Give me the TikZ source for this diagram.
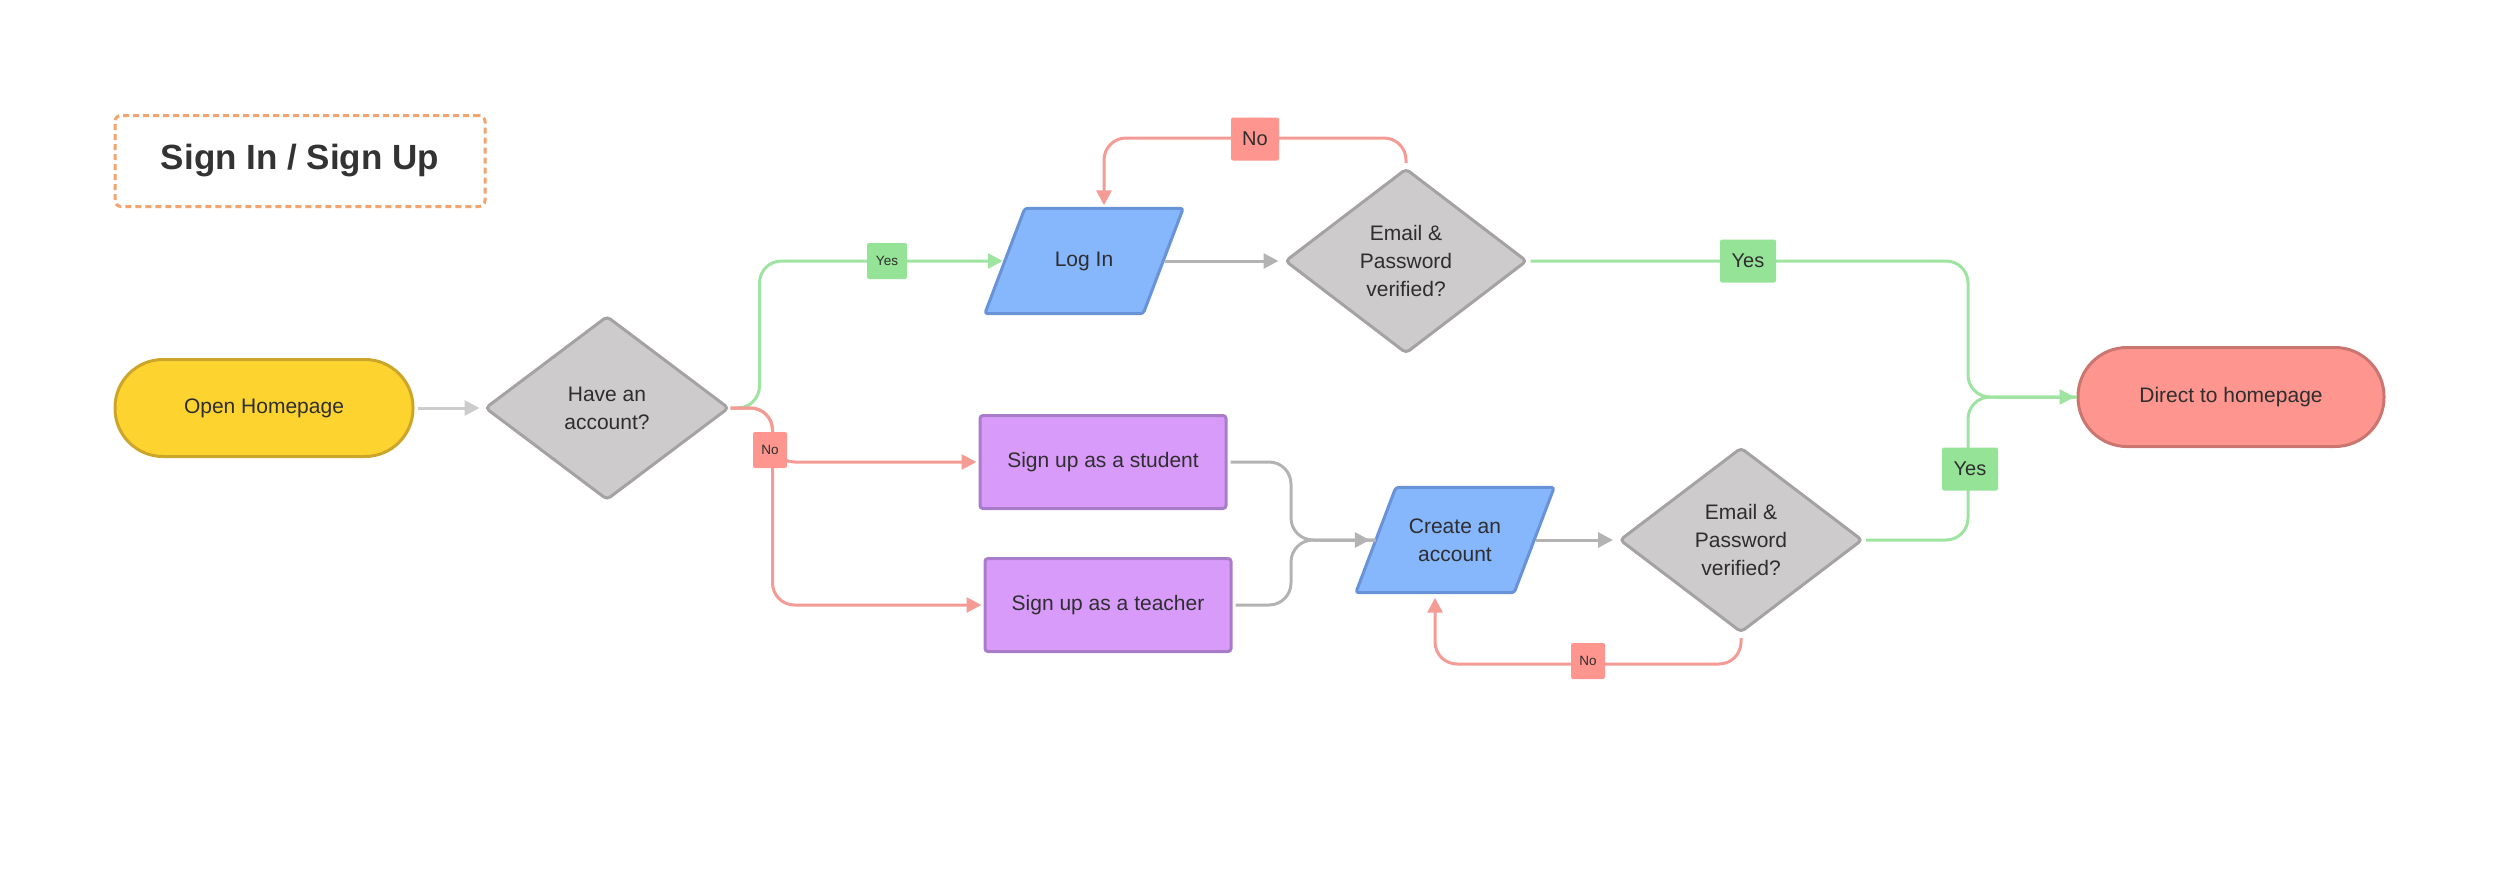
\documentclass[tikz,border=0pt]{standalone}
\usepackage{fontspec}
\setmainfont{Liberation Sans}
\usetikzlibrary{shapes.geometric,arrows.meta,calc,backgrounds}
\definecolor{txt}{HTML}{2E2E2E}
\definecolor{titlec}{HTML}{333333}
\definecolor{dashc}{HTML}{F3A36E}
\definecolor{ohfill}{HTML}{FDD330}
\definecolor{ohline}{HTML}{CCA52B}
\definecolor{dfill}{HTML}{CDCBCC}
\definecolor{dline}{HTML}{A4A2A3}
\definecolor{bfill}{HTML}{86B6FB}
\definecolor{bline}{HTML}{6893D6}
\definecolor{pfill}{HTML}{D99BFA}
\definecolor{pline}{HTML}{A87CC9}
\definecolor{rfill}{HTML}{FE968F}
\definecolor{rline}{HTML}{CB7571}
\definecolor{grayc}{HTML}{B3B3B3}
\definecolor{lgrayc}{HTML}{CCCCCC}
\definecolor{greenc}{HTML}{9FE3A1}
\definecolor{greenl}{HTML}{95E397}
\definecolor{redc}{HTML}{F49B95}
\begin{document}
\begin{tikzpicture}[x=1pt,y=-1pt,
  nodetext/.style={font=\fontsize{21}{28}\selectfont, text=txt, align=center, inner sep=0pt},
  stadium/.style={nodetext, draw, line width=3pt, minimum height=97pt, rounded corners=48pt},
  decision/.style={nodetext, shape=diamond, draw=dline, fill=dfill, line width=3pt, aspect=1.32, rounded corners=4pt},
  iobox/.style={nodetext, minimum width=158pt, minimum height=105pt},
  iofill/.style={draw=bline, fill=bfill, line width=3pt, rounded corners=3pt},
  process/.style={nodetext, draw=pline, fill=pfill, line width=3pt, minimum width=246pt, minimum height=93pt, rounded corners=3pt},
  conn/.style={line width=3pt, rounded corners=22pt, -{Triangle[length=15pt,width=15pt]}},
  plain/.style={line width=3pt, rounded corners=22pt},
  smalllab/.style={font=\fontsize{13.5}{16}\selectfont, text=txt, inner sep=0pt, minimum height=36pt, rounded corners=2pt},
  biglab/.style={font=\fontsize{20}{24}\selectfont, text=txt, inner sep=0pt, minimum height=43pt, rounded corners=2pt},
  yeslab/.style={fill=greenl},
  nolab/.style={fill=rfill}
]
\useasboundingbox (0,0) rectangle (2500,886);

% title
\node[draw=dashc, line width=3pt, dash pattern=on 6pt off 4pt, rounded corners=6pt,
  minimum width=370pt, minimum height=91pt, font=\bfseries\fontsize{35}{40}\selectfont, text=titlec]
  (title) at (300,161) {Sign In / Sign Up};

% nodes
\node[stadium, draw=ohline, fill=ohfill, minimum width=298pt] (oh) at (264,408) {Open Homepage};
\node[decision, minimum width=244pt, minimum height=184pt] (d1) at (607,408) {Have an\\account?};
\node[iobox] (login) at (1084,261) {Log In};
\node[decision, minimum width=242pt, minimum height=185pt] (d2) at (1406,261) {Email \&\\Password\\verified?};
\node[stadium, draw=rline, fill=rfill, minimum width=306pt, minimum height=99pt, rounded corners=49pt] (direct) at (2231,397) {Direct to homepage};
\node[process] (student) at (1103,462) {Sign up as a student};
\node[process] (teacher) at (1108,605) {Sign up as a teacher};
\node[iobox] (create) at (1455,540) {Create an\\account};
\node[decision, minimum width=243pt, minimum height=185pt] (d3) at (1741,540) {Email \&\\Password\\verified?};

% parallelogram bodies behind the input/output texts
\begin{scope}[on background layer]
\path[iofill] ([xshift=20pt]login.north west) -- ([xshift=20pt]login.north east)
  -- ([xshift=-20pt]login.south east) -- ([xshift=-20pt]login.south west) -- cycle;
\path[iofill] ([xshift=20pt]create.north west) -- ([xshift=20pt]create.north east)
  -- ([xshift=-20pt]create.south east) -- ([xshift=-20pt]create.south west) -- cycle;
\end{scope}

\coordinate (merge) at (1968,397);
\coordinate (join) at (1291,540);

% connectors
\draw[conn, draw=lgrayc, shorten <=3pt, shorten >=4pt] (oh.east) -- (d1.west);
\draw[conn, draw=greenc, shorten >=2pt] (d1.east) -- ++(29,0) |- (login.west);
\draw[conn, draw=redc, shorten >=2pt] (d1.east) -- ++(42,0) |- (student.west);
\draw[conn, draw=redc, shorten >=2pt] (d1.east) -- ++(42,0) |- (teacher.west);
\draw[conn, draw=grayc, shorten <=2pt, shorten >=5pt] (login.east) -- (d2.west);
\draw[conn, draw=redc, shorten <=4pt, shorten >=3pt] (d2.north) -- ++(0,-29) -| ([xshift=20pt]login.north);
\draw[plain, draw=greenc, shorten <=2pt] (d2.east) -| (merge) -- (direct.west);
\draw[plain, draw=greenc, shorten <=2pt] (d3.east) -| (merge) -- (direct.west);
\draw[conn, draw=greenc, shorten >=2pt] ($(merge)+(30,0)$) -- (direct.west);
\draw[plain, draw=grayc, shorten <=3pt] (student.east) -| (join) -- (create.west);
\draw[plain, draw=grayc, shorten <=3pt] (teacher.east) -| (join) -- (create.west);
\draw[conn, draw=grayc, shorten >=6pt] ($(join)+(30,0)$) -- (create.west);
\draw[conn, draw=grayc, shorten <=2pt, shorten >=5pt] (create.east) -- (d3.west);
\draw[conn, draw=redc, shorten <=4pt, shorten >=5pt] (d3.south) -- ++(0,30) -| ([xshift=-20pt]create.south);

% labels
\node[smalllab, yeslab, minimum width=40pt] (lyes1) at (887,261) {Yes};
\node[smalllab, nolab, minimum width=34pt] (lno1) at (770,450) {No};
\node[biglab, nolab, minimum width=48pt] (lno2) at (1255,139) {No};
\node[biglab, yeslab, minimum width=56pt] (lyes2) at (1748,261) {Yes};
\node[biglab, yeslab, minimum width=56pt] (lyes3) at (1970,469) {Yes};
\node[smalllab, nolab, minimum width=34pt] (lno3) at (1588,661) {No};
\end{tikzpicture}
\end{document}
